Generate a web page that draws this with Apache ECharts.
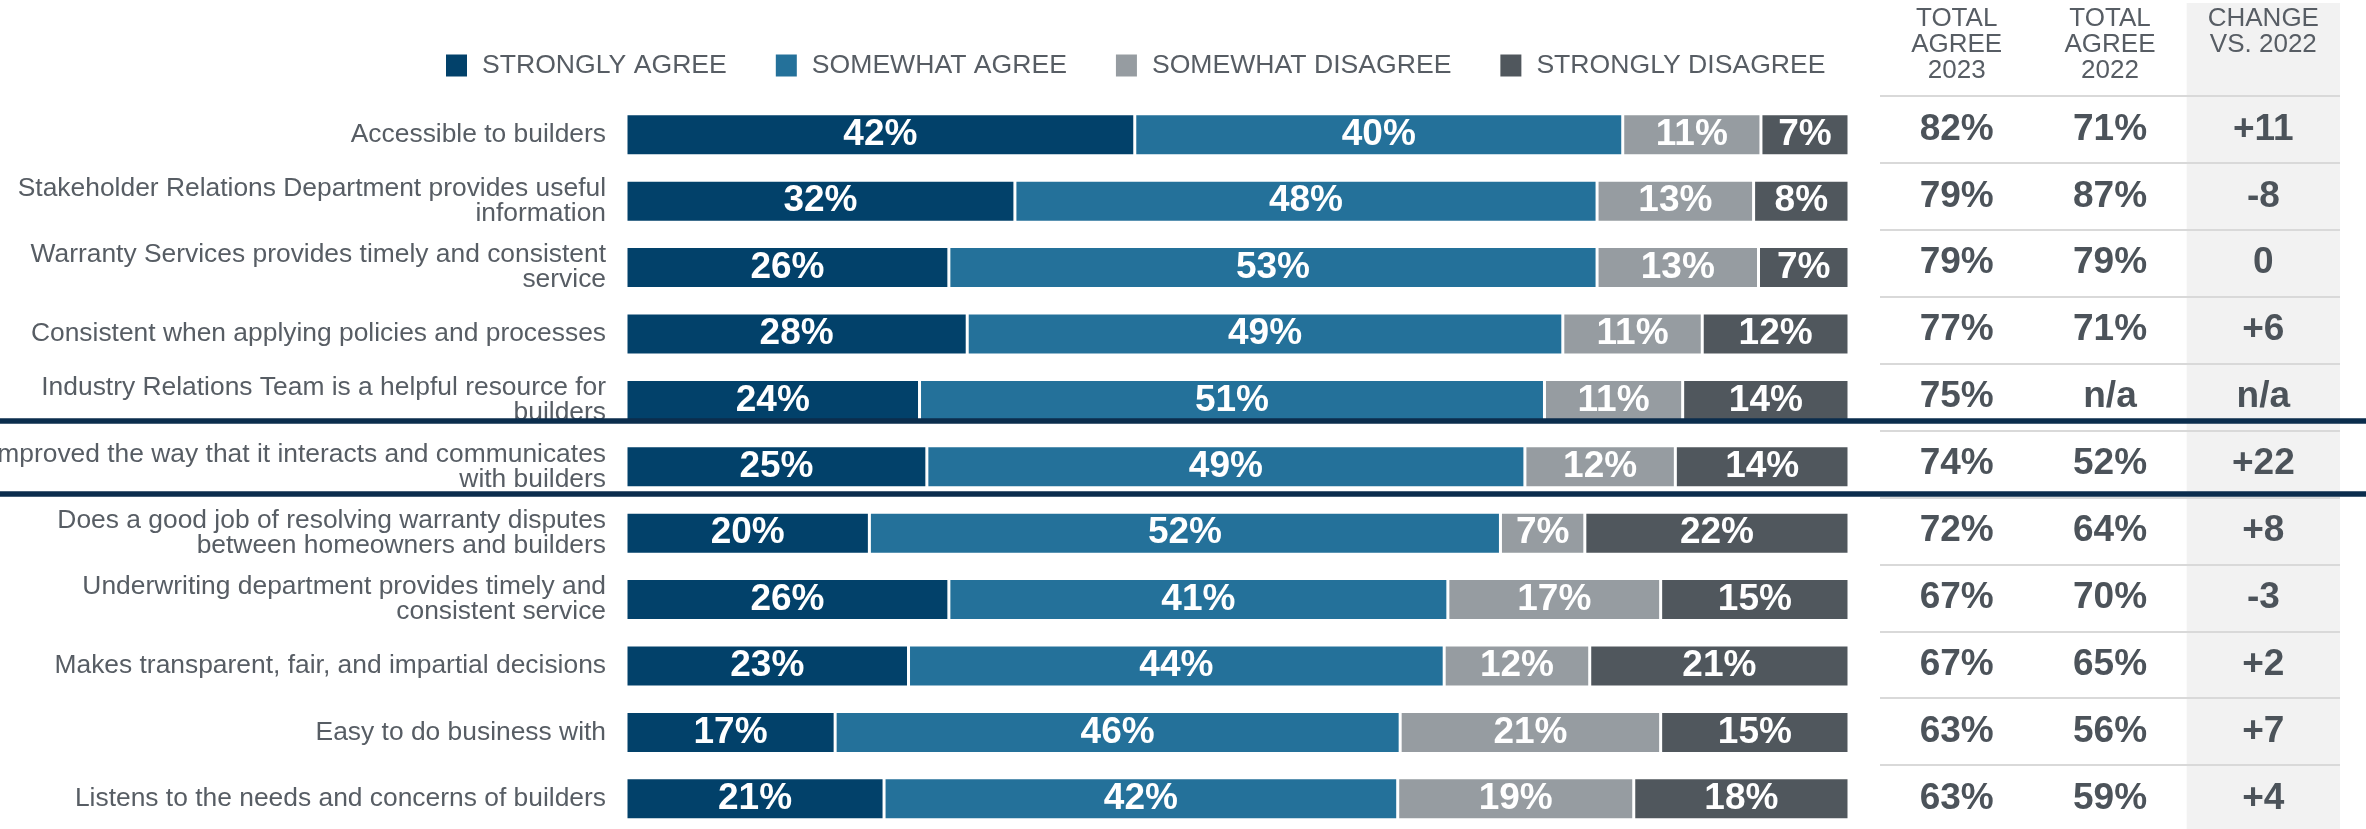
<!DOCTYPE html>
<html><head><meta charset="utf-8">
<script src="https://cdn.jsdelivr.net/npm/echarts@6/dist/echarts.min.js"></script>
<style>html,body{margin:0;padding:0;background:#fff}#c{width:2366px;height:829px}</style>
</head><body><div id="c"></div>
<script>
// ---------- DATA ----------
const categories = [
  'Accessible to builders',
  'Stakeholder Relations Department provides useful\ninformation',
  'Warranty Services provides timely and consistent\nservice',
  'Consistent when applying policies and processes',
  'Industry Relations Team is a helpful resource for\nbuilders',
  'improved the way that it interacts and communicates\nwith builders',
  'Does a good job of resolving warranty disputes\nbetween homeowners and builders',
  'Underwriting department provides timely and\nconsistent service',
  'Makes transparent, fair, and impartial decisions',
  'Easy to do business with',
  'Listens to the needs and concerns of builders'
];
const seriesNames = ['STRONGLY AGREE', 'SOMEWHAT AGREE', 'SOMEWHAT DISAGREE', 'STRONGLY DISAGREE'];
const stronglyAgree    = [41.6, 31.8, 26.4, 27.9, 24.0, 24.6, 19.9, 26.4, 23.1, 17.1, 21.1];
const somewhatAgree    = [39.9, 47.6, 53.0, 48.7, 51.1, 48.9, 51.6, 40.8, 43.8, 46.2, 42.0];
const somewhatDisagree = [11.3, 12.8, 13.2, 11.4, 11.3, 12.3, 6.9, 17.4, 11.9, 21.3, 19.3];
const stronglyDisagree = [7.2, 7.8, 7.4, 12.0, 13.6, 14.2, 21.6, 15.4, 21.2, 15.4, 17.6];

const tableHeaders   = ['TOTAL\nAGREE\n2023', 'TOTAL\nAGREE\n2022', 'CHANGE\nVS. 2022'];
const totalAgree2023 = ['82%', '79%', '79%', '77%', '75%', '74%', '72%', '67%', '67%', '63%', '63%'];
const totalAgree2022 = ['71%', '87%', '79%', '71%', 'n/a', '52%', '64%', '70%', '65%', '56%', '59%'];
const changeVs2022   = ['+11', '-8', '0', '+6', 'n/a', '+22', '+8', '-3', '+2', '+7', '+4'];

// ---------- LAYOUT / STYLE ----------
const FONT = '"Liberation Sans", Arial, sans-serif';
const TXT = '#575d64';
const VAL = '#4c535a';
const COLORS = ['#02416a', '#24719a', '#969ca1', '#50575d'];
const W = 2366, H = 829;
const BAR = {left: 626, top: 101.6, width: 1223, height: 730.4};
const TAB = {left: 1880, top: 96, width: 460, height: 736};
const SEP_Y = [421, 494];

const barSeriesData = [stronglyAgree, somewhatAgree, somewhatDisagree, stronglyDisagree];
const tableCols = [totalAgree2023, totalAgree2022, changeVs2022];

const chart = echarts.init(document.getElementById('c'), null, {renderer: 'canvas'});

const series = barSeriesData.map((arr, k) => ({
  name: seriesNames[k], type: 'bar', stack: 'total', barWidth: 42,
  xAxisIndex: 0, yAxisIndex: 0,
  itemStyle: {color: COLORS[k], borderColor: '#ffffff', borderWidth: 1.5},
  label: {show: true, position: 'inside', color: '#ffffff', fontSize: 37, fontWeight: 'bold',
          fontFamily: FONT, formatter: p => Math.round(p.value) + '%'},
  emphasis: {disabled: true},
  data: arr
}));
tableCols.forEach((col, c) => {
  series.push({
    type: 'scatter', xAxisIndex: 1, yAxisIndex: 1, symbolSize: 0.01,
    itemStyle: {color: VAL, opacity: 1}, z: 5,
    label: {show: true, position: 'inside', color: VAL, opacity: 1, fontSize: 37, fontWeight: 'bold',
            fontFamily: FONT, formatter: p => col[p.dataIndex]},
    emphasis: {disabled: true},
    data: col.map((v, i) => [c, i])
  });
});

const option = {
  backgroundColor: '#ffffff',
  animation: false,
  textStyle: {fontFamily: FONT},
  legend: {
    left: 444, top: 52, itemWidth: 23, itemHeight: 24, itemGap: 47, icon: 'rect', padding: 0,
    selectedMode: false,
    textStyle: {fontSize: 26.6, color: TXT, fontFamily: FONT, padding: [0, 0, 0, 9]},
    data: seriesNames
  },
  grid: [
    Object.assign({outerBoundsMode: 'none', containLabel: false}, BAR),
    Object.assign({outerBoundsMode: 'none', containLabel: false}, TAB)
  ],
  xAxis: [
    {gridIndex: 0, type: 'value', min: 0, max: 100, show: false},
    {gridIndex: 1, type: 'category', data: tableHeaders, position: 'top',
     axisLine: {show: false}, axisTick: {show: false}, splitLine: {show: false},
     axisLabel: {interval: 0, fontSize: 26, lineHeight: 26, color: TXT, fontFamily: FONT,
                 verticalAlign: 'top', margin: 90}}
  ],
  yAxis: [
    {gridIndex: 0, type: 'category', data: categories, inverse: true,
     axisLine: {show: false}, axisTick: {show: false}, splitLine: {show: false},
     axisLabel: {interval: 0, fontSize: 26.4, lineHeight: 25, color: TXT, fontFamily: FONT, margin: 20}},
    {gridIndex: 1, type: 'category', data: categories, inverse: true,
     axisLine: {show: false}, axisTick: {show: false}, axisLabel: {show: false},
     splitLine: {show: true, lineStyle: {color: '#d9d9d9', width: 2}}}
  ],
  graphic: [
    {type: 'rect', z: -10, silent: true,
     shape: {x: TAB.left + TAB.width * 2 / 3, y: 3, width: TAB.width / 3, height: H - 3},
     style: {fill: '#f2f2f2'}},
    ...SEP_Y.map(y => ({type: 'line', z: 100, silent: true,
      shape: {x1: 0, y1: y, x2: W, y2: y}, style: {stroke: '#0b2d4d', lineWidth: 5.5}}))
  ],
  series: series
};
chart.setOption(option);
</script></body></html>
